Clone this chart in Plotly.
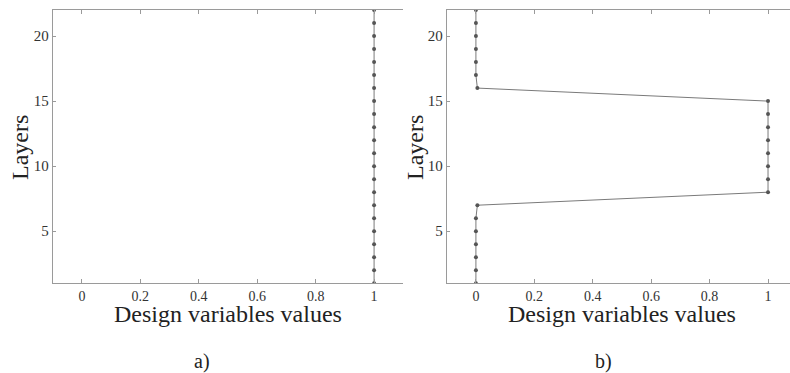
import plotly.graph_objects as go

layers = list(range(1, 23))
values_a = [1.0] * 22
values_b = [0, 0, 0, 0, 0, 0, 0.005, 1, 1, 1, 1, 1, 1, 1, 1, 0.005, 0, 0, 0, 0, 0, 0]
x_ticks = [0, 0.2, 0.4, 0.6, 0.8, 1]
x_tick_text = ["0", "0.2", "0.4", "0.6", "0.8", "1"]
y_ticks = [5, 10, 15, 20]
x_title = "Design variables values"
y_title = "Layers"
panel_labels = ["a)", "b)"]

W, H = 790, 373
FONT = "Liberation Serif"
AXC = "#9a9a9a"
MARK = "#555555"
LINEC = "#7a7a7a"

fig = go.Figure()
for xs, xa, ya in [(values_a, "x", "y"), (values_b, "x2", "y2")]:
    fig.add_trace(go.Scatter(
        x=xs, y=layers, xaxis=xa, yaxis=ya, mode="lines+markers",
        line=dict(color=LINEC, width=1),
        marker=dict(color=MARK, size=4),
        showlegend=False, hoverinfo="skip"))

def px_x(p):
    return p / W

def px_y(p):
    return 1 - p / H

ydom = [px_y(283.3), px_y(10)]
common_x = dict(
    tickvals=x_ticks, ticktext=x_tick_text, ticks="inside", ticklen=4,
    tickcolor=AXC, showline=True, linecolor=AXC, linewidth=1, mirror="ticks",
    showgrid=False, zeroline=False,
    tickfont=dict(family=FONT, size=14, color="#333333"))
common_y = dict(
    tickvals=y_ticks, ticks="inside", ticklen=3, tickcolor=AXC,
    showline=True, linecolor=AXC, linewidth=1, mirror=False,
    showgrid=False, zeroline=False, range=[1, 22], domain=ydom,
    tickfont=dict(family=FONT, size=15, color="#333333"))

fig.update_layout(
    width=W, height=H, margin=dict(l=0, r=0, t=0, b=0),
    plot_bgcolor="white", paper_bgcolor="white",
    xaxis=dict(domain=[px_x(52.7), px_x(403.3)], range=[-0.1, 1.1], anchor="y", **common_x),
    yaxis=dict(anchor="x", **common_y),
    xaxis2=dict(domain=[px_x(446.7), 1.0], range=[-0.1, 1.0752], anchor="y2", **common_x),
    yaxis2=dict(anchor="x2", **common_y),
    yaxis3=dict(overlaying="y", side="right", anchor="x", range=[1, 22],
                tickvals=y_ticks, ticks="inside", ticklen=3, tickcolor=AXC,
                showline=False, showgrid=False, zeroline=False,
                showticklabels=False),
)

annotations = []
for cx, lx in [(228, 20), (621.8, 415)]:
    annotations.append(dict(x=px_x(cx), y=px_y(314), xref="paper", yref="paper",
                            text=x_title, showarrow=False, xanchor="center", yanchor="middle",
                            font=dict(family=FONT, size=24, color="#222222")))
    annotations.append(dict(x=px_x(lx), y=px_y(148), xref="paper", yref="paper",
                            text=y_title, showarrow=False, textangle=-90,
                            xanchor="center", yanchor="middle",
                            font=dict(family=FONT, size=24, color="#222222")))
for cx, lab in [(201.7, panel_labels[0]), (603, panel_labels[1])]:
    annotations.append(dict(x=px_x(cx), y=px_y(361), xref="paper", yref="paper",
                            text=lab, showarrow=False, xanchor="center", yanchor="middle",
                            font=dict(family=FONT, size=20, color="#222222")))
fig.update_layout(annotations=annotations)

fig.write_html("out.html", config={"displayModeBar": False},
               post_script="document.body.style.margin='0';document.body.style.overflow='hidden';")
